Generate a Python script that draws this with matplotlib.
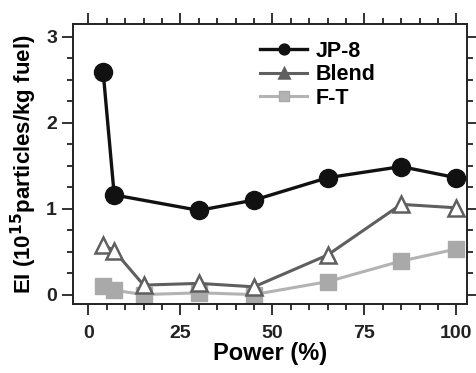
#!/usr/bin/env python
"""Recreate the EI vs engine power figure for JP-8, blend and F-T fuels."""

import matplotlib

matplotlib.use("Agg")
import matplotlib.pyplot as plt
from matplotlib.ticker import MultipleLocator

plt.rcParams["font.family"] = ["Liberation Sans", "DejaVu Sans"]
plt.rcParams["font.weight"] = "bold"

power = [4, 7, 15, 30, 45, 65, 85, 100]
jp8_power = [4, 7, 30, 45, 65, 85, 100]
jp8_ei = [2.59, 1.16, 0.98, 1.10, 1.36, 1.49, 1.36]
blend_ei = [0.58, 0.51, 0.11, 0.13, 0.09, 0.46, 1.05, 1.01]
ft_ei = [0.10, 0.05, 0.00, 0.02, 0.00, 0.15, 0.39, 0.53]


def main() -> int:
    fig = plt.figure(figsize=(4.77, 3.73), dpi=100)
    ax = fig.add_axes([73 / 477, 1 - 304 / 373, (467 - 73) / 477, (304 - 24) / 373])

    ax.plot(power, ft_ei, color="#b3b3b3", linewidth=2.2, marker="s",
            markersize=11, markerfacecolor="#a9a9a9", markeredgecolor="#a9a9a9",
            label="F-T", zorder=2)
    ax.plot(power, blend_ei, color="#5f5f5f", linewidth=2.2, marker="^",
            markersize=11, markerfacecolor="white", markeredgecolor="#5f5f5f",
            markeredgewidth=1.8, label="Blend", zorder=3)
    ax.plot(jp8_power, jp8_ei, color="#111111", linewidth=2.4, marker="o",
            markersize=13, markerfacecolor="#111111", markeredgecolor="#111111",
            label="JP-8", zorder=4)

    ax.set_xlim(-4.2, 102.9)
    ax.set_ylim(-0.11, 3.15)
    ax.xaxis.set_major_locator(MultipleLocator(25))
    ax.xaxis.set_minor_locator(MultipleLocator(5))
    ax.yaxis.set_major_locator(MultipleLocator(1))
    ax.yaxis.set_minor_locator(MultipleLocator(0.25))
    ax.tick_params(which="both", direction="out", top=True, right=True,
                   width=1.3, colors="#222222", labelsize=14)
    ax.tick_params(which="major", length=8)
    ax.tick_params(which="minor", length=4)
    ax.tick_params(axis="x", pad=7)
    for spine in ax.spines.values():
        spine.set_linewidth(1.4)
        spine.set_color("#222222")

    ax.set_xlabel("Power (%)", fontsize=17, fontweight="bold", labelpad=0)
    ax.set_ylabel(r"EI (10$^{\mathbf{15}}$particles/kg fuel)", fontsize=16,
                  fontweight="bold", labelpad=5)

    handles, labels = ax.get_legend_handles_labels()
    leg = ax.legend(handles[::-1], labels[::-1], loc="upper left",
                    bbox_to_anchor=(0.425, 1.01), frameon=False, fontsize=15.5,
                    markerscale=0.6, handlelength=2.2, handletextpad=0.4,
                    labelspacing=0.12)
    for h in leg.legend_handles:
        h.set_markerfacecolor(h.get_color())

    fig.savefig("out.png", dpi=100)
    plt.close(fig)
    return 0


if __name__ == "__main__":
    raise SystemExit(main())
